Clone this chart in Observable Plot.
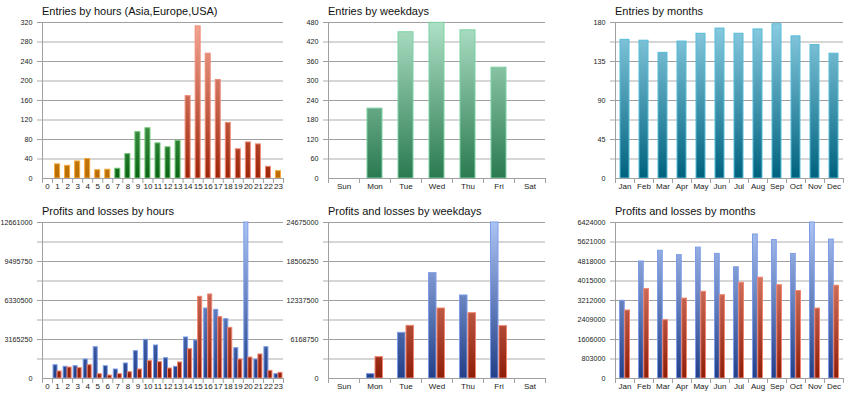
<!DOCTYPE html>
<html><head><meta charset="utf-8">
<script src="https://cdn.jsdelivr.net/npm/d3@7"></script>
<script src="https://cdn.jsdelivr.net/npm/@observablehq/plot@0.6"></script>
<style>
body{margin:0;background:#fff;font-family:"Liberation Sans",Arial,sans-serif;}
#root{position:relative;width:860px;height:400px;overflow:hidden;background:#fff;}
.panel{position:absolute;}
.title{position:absolute;font-size:11px;line-height:11px;color:#111;white-space:nowrap;}
</style></head><body><div id="root"></div><script>
// ---------- data ----------
const hourLabels = ["0","1","2","3","4","5","6","7","8","9","10","11","12","13","14","15","16","17","18","19","20","21","22","23"];
const hourRegions = ["Asia","Asia","Asia","Asia","Asia","Asia","Asia","Europe","Europe","Europe","Europe","Europe","Europe","Europe","USA","USA","USA","USA","USA","USA","USA","USA","USA","Asia"];
const hourEntries = [0,29,26,35,40,17,18,20,50,95,103,72,64,77,169,312,256,202,114,60,74,70,24,15];

const weekdayLabels = ["Sun","Mon","Tue","Wed","Thu","Fri","Sat"];
const weekdayEntries = [0,215,450,479,456,341,0];

const monthLabels = ["Jan","Feb","Mar","Apr","May","Jun","Jul","Aug","Sep","Oct","Nov","Dec"];
const monthEntries = [160,159,145,158,167,173,167,172,178,164,154,144];

const hourProfits = [0,1080000,950000,1000000,1540000,2540000,1000000,730000,1220000,2220000,3140000,2680000,1650000,950000,3330000,3080000,5680000,5570000,4820000,2460000,12661000,1540000,2540000,350000];
const hourLosses  = [0,570000,890000,840000,1080000,350000,240000,350000,510000,730000,1410000,1330000,810000,1300000,2380000,6630000,6820000,4980000,4110000,1540000,1700000,1950000,620000,460000];

const weekdayProfits = [0,690000,7220000,16660000,13130000,24675000,0];
const weekdayLosses  = [0,3370000,8330000,11070000,10330000,8280000,0];

const monthProfits = [3200000,4818000,5260000,5080000,5390000,5130000,4580000,5930000,5700000,5130000,6424000,5720000];
const monthLosses  = [2800000,3680000,2400000,3290000,3570000,3430000,3940000,4150000,3840000,3600000,2880000,3820000];

// axis ticks
const hourEntryTicks = [0,40,80,120,160,200,240,280,320];
const hourEntryDark = [80,160,240,320];
const hourEntryLight = [40,120,200,280];

const weekdayEntryTicks = [0,60,120,180,240,300,360,420,480];
const weekdayEntryDark = [120,240,360,480];
const weekdayEntryLight = [60,180,300,420];

const monthEntryTicks = [0,45,90,135,180];
const monthEntryDark = [45,90,135,180];
const monthEntryLight = [22.5,67.5,112.5,157.5];

const hourPLTicks = [0,3165250,6330500,9495750,12661000];
const hourPLDark = [3165250,6330500,9495750,12661000];
const hourPLLight = [1582625,4747875,7913125,11078375];

const weekdayPLTicks = [0,6168750,12337500,18506250,24675000];
const weekdayPLDark = [6168750,12337500,18506250,24675000];
const weekdayPLLight = [3084375,9253125,15421875,21590625];

const monthPLTicks = [0,803000,1606000,2409000,3212000,4015000,4818000,5621000,6424000];
const monthPLDark = [1606000,3212000,4818000,6424000];
const monthPLLight = [803000,2409000,4015000,5621000];

// ---------- styles ----------
const palette = {
  Asia:    {top:"#f4b854", bottom:"#b86c04", stroke:"#f4a83a"},
  Europe:  {top:"#9ede9e", bottom:"#0a6414", stroke:"#6ec472"},
  USA:     {top:"#f4a896", bottom:"#9c2408", stroke:"#f08c78"},
  Weekday: {top:"#aee0c6", bottom:"#2a7a50", stroke:"#7ad2a4"},
  Month:   {top:"#8ccde2", bottom:"#00627e", stroke:"#56bcd9"},
  Profits: {top:"#abc4f4", bottom:"#223f88", stroke:"#7c9ce6"},
  Losses:  {top:"#f4a290", bottom:"#8e1e08", stroke:"#f08470"}
};
const FONT = '"Liberation Sans", Arial, sans-serif';
const root = document.getElementById("root");
let uidCounter = 0;

function panel(cfg) {
  const {left, top, width, ml, mr, title, cats, series, yMax, ticks, dark, light, barW = 0, groupInset = 0, groupGap = 0} = cfg;
  const height = 200, mt = 22, mb = 22;
  const step = (width - ml - mr) / cats.length;
  const uid = "g" + (uidCounter++);
  const used = new Set();
  const marks = [
    Plot.ruleY(light, {y: d => d, stroke: "#d6d6d6", strokeWidth: 2, insetLeft: -5}),
    Plot.ruleY(dark, {y: d => d, stroke: "#a0a0a0", strokeWidth: 1, insetLeft: -5})
  ];
  series.forEach((s, si) => {
    let insetLeft, insetRight;
    if (series.length === 1) { insetLeft = insetRight = (step - barW) / 2; }
    else if (si === 0) { insetLeft = groupInset; insetRight = step / 2 + groupGap / 2; }
    else { insetLeft = step / 2 + groupGap / 2; insetRight = groupInset; }
    const data = cats.map((c, i) => ({cat: c, value: s.values[i], group: s.groups ? s.groups[i] : s.name}))
      .filter(d => d.value > 0);
    const groups = Array.from(new Set(data.map(d => d.group)));
    groups.forEach(g => {
      used.add(g);
      marks.push(Plot.barY(data.filter(d => d.group === g), {
        x: "cat", y: "value", fill: `url(#${uid}-${g})`, stroke: palette[g].stroke, strokeWidth: 1,
        insetLeft, insetRight
      }));
    });
  });
  marks.push(Plot.ruleY([0], {stroke: "#a0a0a0"}));
  marks.push(Plot.ruleX([cats[0]], {x: d => d, dx: -step / 2, stroke: "#a0a0a0"}));
  marks.push(Plot.axisY({ticks, tickSize: 0, tickPadding: 10, fontSize: 7.2, fill: "#222", tickFormat: d => String(d), label: null}));
  marks.push(Plot.axisX({tickSize: 0, tickPadding: 5, fontSize: 8, fill: "#222", label: null}));
  marks.push(Plot.axisX({tickSize: 5, tickFormat: () => "", dx: -step / 2, stroke: "#a0a0a0", label: null}));
  marks.push(Plot.axisX({ticks: [cats[cats.length - 1]], tickSize: 5, tickFormat: () => "", dx: step / 2, stroke: "#a0a0a0", label: null}));

  const svg = Plot.plot({
    width, height, marginLeft: ml, marginRight: mr, marginTop: mt, marginBottom: mb,
    style: {background: "transparent", overflow: "visible", fontFamily: FONT},
    x: {type: "band", domain: cats, padding: 0, round: false, label: null},
    y: {domain: [0, yMax], label: null},
    marks
  });
  const defs = d3.select(svg).insert("defs", ":first-child");
  used.forEach(g => {
    const lg = defs.append("linearGradient").attr("id", `${uid}-${g}`)
      .attr("gradientUnits", "userSpaceOnUse")
      .attr("x1", 0).attr("x2", 0).attr("y1", mt).attr("y2", height - mb);
    lg.append("stop").attr("offset", 0).attr("stop-color", palette[g].top);
    lg.append("stop").attr("offset", 1).attr("stop-color", palette[g].bottom);
  });
  svg.classList.add("panel");
  svg.style.left = left + "px";
  svg.style.top = top + "px";
  root.appendChild(svg);
  const t = document.createElement("div");
  t.className = "title";
  t.textContent = title;
  t.style.left = (left + ml) + "px";
  t.style.top = (top + 6) + "px";
  root.appendChild(t);
}

panel({left: 0, top: 0, width: 290, ml: 42, mr: 7, title: "Entries by hours (Asia,Europe,USA)",
  cats: hourLabels, series: [{name: "hours", values: hourEntries, groups: hourRegions}],
  yMax: 320, ticks: hourEntryTicks, dark: hourEntryDark, light: hourEntryLight, barW: 5});
panel({left: 280, top: 0, width: 270, ml: 48, mr: 5, title: "Entries by weekdays",
  cats: weekdayLabels, series: [{name: "Weekday", values: weekdayEntries}],
  yMax: 480, ticks: weekdayEntryTicks, dark: weekdayEntryDark, light: weekdayEntryLight, barW: 15});
panel({left: 565, top: 0, width: 285, ml: 50, mr: 7, title: "Entries by months",
  cats: monthLabels, series: [{name: "Month", values: monthEntries}],
  yMax: 180, ticks: monthEntryTicks, dark: monthEntryDark, light: monthEntryLight, barW: 9});

panel({left: 0, top: 200, width: 290, ml: 42, mr: 7, title: "Profits and losses by hours",
  cats: hourLabels, series: [{name: "Profits", values: hourProfits}, {name: "Losses", values: hourLosses}],
  yMax: 12661000, ticks: hourPLTicks, dark: hourPLDark, light: hourPLLight, groupInset: 1, groupGap: 0});
panel({left: 280, top: 200, width: 270, ml: 48, mr: 5, title: "Profits and losses by weekdays",
  cats: weekdayLabels, series: [{name: "Profits", values: weekdayProfits}, {name: "Losses", values: weekdayLosses}],
  yMax: 24675000, ticks: weekdayPLTicks, dark: weekdayPLDark, light: weekdayPLLight, groupInset: 7.5, groupGap: 1});
panel({left: 565, top: 200, width: 285, ml: 50, mr: 7, title: "Profits and losses by months",
  cats: monthLabels, series: [{name: "Profits", values: monthProfits}, {name: "Losses", values: monthLosses}],
  yMax: 6424000, ticks: monthPLTicks, dark: monthPLDark, light: monthPLLight, groupInset: 4.5, groupGap: 0.5});
</script></body></html>
